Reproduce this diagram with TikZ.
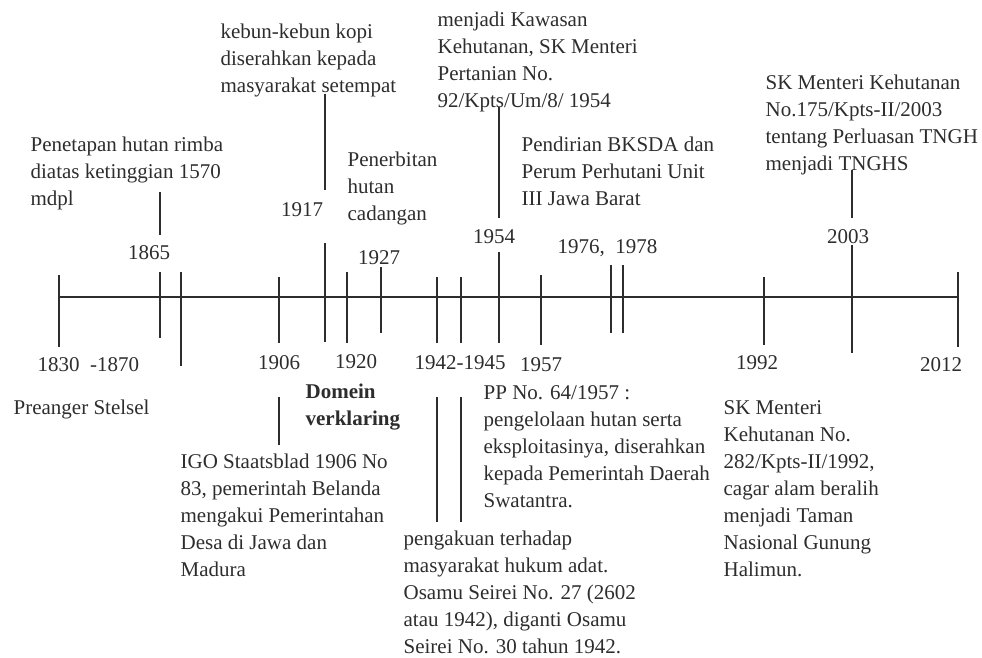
\documentclass[tikz,border=0pt]{standalone}
\usepackage{fontspec}
\setmainfont{Liberation Serif}
\usepackage{tikz}
\usetikzlibrary{positioning}
\definecolor{inkgray}{RGB}{45,45,45}
\newcommand\tlfont{\fontsize{21}{27}\selectfont}

\begin{document}
\begin{tikzpicture}[
x=1pt, y=-1pt,
font=\tlfont,
color=inkgray,
line width=1.3pt,
every node/.style={inner sep=0pt},
note/.style={anchor=base west, align=left},
year/.style={anchor=base}]
    \useasboundingbox (0,0) rectangle (982,657);

    % Draw axis
    \draw (59,297) coordinate (tstart) -- (958,297) coordinate (tend);

    % ticks on the axis
    \foreach \x/\a/\b in {59/275/347, 160/272/338, 181/272/366, 279/277/343,
        325/243/342, 347/272/343, 381/267/333, 437/277/343, 461/277/343,
        499/252/343, 541/275/345, 611/265/333, 623/265/333, 764/277/345,
        852/245/353, 958/272/347}
        \draw (\x,\a) -- (\x,\b);

    % leaders to the notes
    \foreach \x/\a/\b in {160/192/235, 325/94/190, 499/107/218, 852/170/218,
        279/397/445, 437/397/522, 461/397/522}
        \draw (\x,\a) -- (\x,\b);

    % above the axis (anchored at the last line)
    \node[note] (pen) at (30,205) {Penetapan hutan rimba\\diatas ketinggian 1570\\mdpl};
    \node[year] (y1865) at (149,259) {1865};
    \node[note] (kebun) at (220,92) {kebun-kebun kopi\\diserahkan kepada\\masyarakat setempat};
    \node[year] (y1917) at (302,216) {1917};
    \node[note] (terbit) at (347,220) {Penerbitan\\hutan\\cadangan};
    \node[year] (y1927) at (379,264) {1927};
    \node[note] (kawasan) at (437,107) {menjadi Kawasan\\Kehutanan, SK Menteri\\Pertanian No.\\92/Kpts/Um/8/ 1954};
    \node[year] (y1954) at (494,243) {1954};
    \node[note] (bksda) at (521,205) {Pendirian BKSDA dan\\Perum Perhutani Unit\\III Jawa Barat};
    \node[note] (y1976) at (557,253) {1976,\enspace 1978};
    \node[note] (tnghs) at (765,170) {SK Menteri Kehutanan\\No.175/Kpts-II/2003\\tentang Perluasan TNGH\\menjadi TNGHS};
    \node[year] (y2003) at (848,243) {2003};

    % below the axis
    \node[note] (y1830) at (37,371) {1830\enspace-1870};
    \node[note] (preanger) at (13,414) {Preanger Stelsel};
    \node[year] (y1906) at (279,369) {1906};
    \node[year] (y1920) at (356,368) {1920};
    \node[note, font=\tlfont\bfseries] (domein) at (305,425) {Domein\\verklaring};
    \node[year] (y1942) at (460,369) {1942-1945};
    \node[year] (y1957) at (541,371) {1957};
    \node[note] (pp) at (483,507) {PP No. 64/1957 :\\pengelolaan hutan serta\\eksploitasinya, diserahkan\\kepada Pemerintah Daerah\\Swatantra.};
    \node[note] (igo) at (180,576) {IGO Staatsblad 1906 No\\83, pemerintah Belanda\\mengakui Pemerintahan\\Desa di Jawa dan\\Madura};
    \node[note] (adat) at (403,653) {pengakuan terhadap\\masyarakat hukum adat.\\Osamu Seirei No. 27 (2602\\atau 1942), diganti Osamu\\Seirei No. 30 tahun 1942.};
    \node[year] (y1992) at (757,369) {1992};
    \node[year] (y2012) at (941,371) {2012};
    \node[note] (halimun) at (723,576) {SK Menteri\\Kehutanan No.\\282/Kpts-II/1992,\\cagar alam beralih\\menjadi Taman\\Nasional Gunung\\Halimun.};

\end{tikzpicture}
\end{document}
